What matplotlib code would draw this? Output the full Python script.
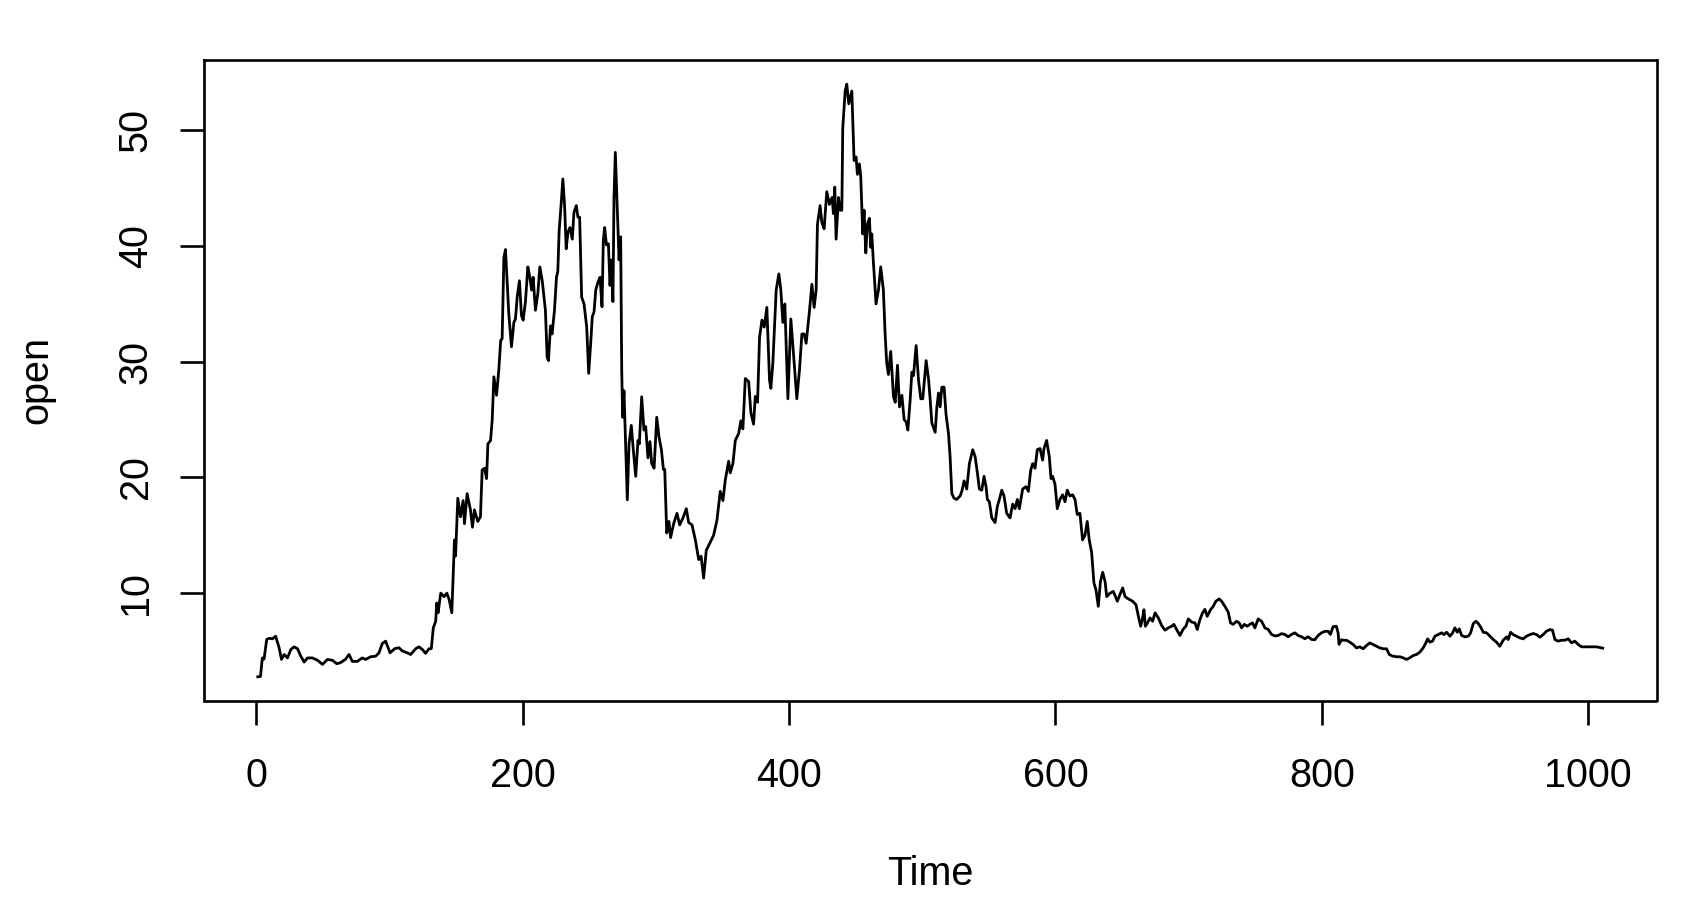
import matplotlib
matplotlib.use("Agg")
import matplotlib.pyplot as plt
import numpy as np

plt.rcParams['font.family'] = ['Liberation Sans', 'DejaVu Sans']

# ---- data (time index, opening value) ----
time = [
    1, 3, 4.4, 5.7, 7.7, 9.5, 12, 14.4, 17, 18.8, 20.8, 23.3, 25.8, 28.3, 30.8, 33.3, 35.8, 38.3, 42, 45.8,
    49.6, 53.3, 57, 60.3, 63.3, 67, 69.5, 72, 75.7, 79.4, 82, 85.7, 89.5, 92, 94.5, 97, 100.3, 103.8, 107, 109.6,
    113.3, 115.8, 119.6, 122, 124.6, 127, 129.6, 131.3, 132.8, 134.6, 135.4, 136.4, 138.4, 140.9, 143, 144.7,
    146.7, 148.7, 149.5, 151.2, 153.2, 155.2, 156.2, 158.2, 160.7, 162.2, 163.7, 166.2, 168.2, 169.5, 171.3,
    172.8, 173.8, 175.8, 177, 178.3, 180.3, 182, 183.4, 184.5, 185.8, 187, 188.2, 189.5, 191.5, 193.3, 194.5,
    195.8, 197.5, 199, 200.3, 202, 203.8, 205.3, 206.6, 207.8, 209.5, 211.3, 212.8, 214.6, 217, 218.3, 219.3,
    220.8, 222, 223.8, 225.3, 226.3, 227.3, 228.8, 230.1, 231.4, 232.6, 233.9, 235.4, 237.2, 238.4, 240.2,
    241.4, 242.7, 244.2, 246, 248, 249.5, 251, 252.2, 253.5, 254.8, 256.5, 258, 259.5, 260.5, 261.5, 262.8,
    264.3, 265.5, 266.5, 267.7, 268.5, 269.5, 271, 272.3, 273.5, 274.3, 275, 276, 278.5, 279.8, 281.5, 283,
    284.8, 286.5, 287.5, 289.3, 291, 292.3, 294, 295.5, 296.8, 298.6, 300.6, 302.3, 304.1, 305.6, 306.6,
    308.1, 309.8,
    311, 313.3, 315.8, 317.8, 320.3, 322.8, 324.6, 327.1, 329.6, 332.1, 333.9, 335.8, 337.8, 340.3, 343.3,
    345.8, 348.3, 350.3, 352.1, 354.6, 355.8, 357.8, 359.6, 362.1, 363.8, 365.3, 367.1, 369.6, 371.3, 373.3,
    374.6, 376.3, 377.8, 379.6, 381.3, 383.3, 385.3, 386.3, 387.8, 390.3, 392.3, 393.8, 395.3, 396.8, 399.1,
    401.3, 403.3, 405.8, 407.8, 409.6, 411.3, 412.8, 415.3, 417.1, 418.8, 420.3, 421.3, 423.3, 424.6, 426.3,
    428.3, 430.3, 432.3, 433.3, 434.3, 435.3, 437.1, 438.3, 439.6, 440.3, 442.1, 443.3, 444.8, 447.1, 448.8,
    450.3, 451.3, 452.8, 453.8, 455.3, 456.3, 457.6, 458.8, 460.3, 461.3, 462.1, 463.3, 465.3, 467.1, 468.8,
    470.8, 472.1, 473.3, 474.6,
    476.3, 478.4, 479.7, 481.4, 482.9, 484.7, 486.4, 487.9, 489.2, 490.9, 492.2, 493.4, 495.4, 497.2, 498.9,
    500.4, 502.9, 504.7, 505.9, 507.2, 509.7, 510.9, 512.2, 513.4, 514.7, 516.4, 517.9, 519.7, 520.9, 522.2,
    523.9, 525.9, 528.4, 529.7, 531.4, 533.4, 535.4, 537.9, 539.7, 541.4, 542.9, 544.7, 546.4, 547.9, 548.9,
    550.4, 552.2, 554.7, 556.4, 557.9, 559.7, 561.4, 563.4, 565.9, 567.9, 569.7, 571.4, 572.9, 575.4, 577.9,
    579.7, 581.4, 582.9, 584.7, 586.4, 588.4, 590.4, 591.4, 593.4, 595.4, 596.7, 597.9, 599.7, 601.4, 603.4,
    605.4, 607.2, 608.9, 610.9, 612.9, 614.7, 616.4, 618.4, 620.4, 622.2, 623.9, 625.4, 627.2, 628.9, 630.4,
    632.2,
    633.8, 635.5, 637.3, 638.5, 641, 643.5, 646.5, 648.5, 650.5, 652.3, 654.8, 658, 660.5, 662.3, 664, 665.5,
    666.5, 667.5, 669, 671, 673, 674.8, 677.3, 679.8, 682.3, 684.8, 687.3, 689, 691, 693.5, 696, 698, 699.8,
    702.3, 704.8, 706.5, 708.5, 710.5, 712.3, 714, 716.5, 718.5, 720.5, 723, 724.8, 727.3, 729.8, 731.5,
    733.5, 736, 738, 739.8, 741.8, 744, 746, 748, 749.8, 752.3, 754.8, 757.3, 759.8, 762.3, 764.8, 767.3,
    769.8, 772.3, 774.8, 777.3, 779.8, 782.3, 784.8, 787.3, 789.8, 792.3, 794.8, 797.3, 799.8, 802.3, 804.8,
    806.5, 808.5, 811, 812.3, 813,
    814.8, 816.1, 818.6, 821.1, 823.6, 826.1, 828.6, 831.1, 833.6, 836.1, 838.6, 841.1, 843.6, 846.2, 848.7,
    850.7, 853.2, 856.2, 858.7, 861.2, 863.7, 866.2, 868.7, 871.2, 873.7, 876.2, 878.2, 879.5, 881.2, 883.2,
    885, 887.5, 890, 891.8, 893.8, 896.3, 898.3, 900, 901.8, 903.3, 905.1, 907.6, 910.1, 911.8, 913.8, 915.8,
    917.6, 919.3, 921.3, 923.8, 926.3, 928.8, 931.3, 933.7, 936.3, 938.8, 940, 941.8, 943.8, 946.3, 948.8,
    951.3, 953.8, 956.3, 958.8, 961.3, 963.8, 966.3, 968.8, 971.3, 973.3, 975.1, 977.6, 980.1, 982.6, 985.1,
    987.6, 990.1, 992.6, 995.1, 998.8, 1002.6, 1006.3, 1011,
]

open_vals = [
    2.77, 2.8, 4.4, 4.3, 6.0, 6.1, 6.05, 6.28, 5.28, 4.27, 4.7, 4.4, 5.13, 5.36, 5.2, 4.55, 4.04, 4.4, 4.4, 4.2,
    3.84, 4.27, 4.2, 3.9, 4.0, 4.3, 4.7, 4.1, 4.1, 4.4, 4.27, 4.5, 4.55, 4.84, 5.65, 5.85, 4.84, 5.2, 5.28, 5.0,
    4.84, 4.7, 5.2, 5.36, 5.13, 4.8, 5.2, 5.2, 7.0, 7.57, 9.15, 8.3, 10.0, 9.7, 10.0, 9.45,
    8.3, 14.6, 13.2, 18.2, 16.6, 18.0, 16.0, 18.6, 17.2, 15.7, 17.2, 16.2, 16.6, 20.65, 20.8,
    19.9, 22.9, 23.2, 24.9, 28.7, 27.1, 29.3, 31.85, 32.0, 39.0, 39.7, 37.0, 34.15, 31.3, 33.4, 33.7,
    35.6, 37.0, 34.0, 33.6, 35.2, 38.2, 37.3, 36.2, 37.3, 34.45, 35.9, 38.2, 37.0, 34.45, 30.4, 30.1,
    33.1, 32.4, 34.45, 37.3, 37.8, 41.3, 43.6, 45.8, 43.5, 39.76, 41.2, 41.6, 40.6, 42.9, 43.5,
    42.5, 42.5, 35.6, 35.0, 33.0, 29.0, 31.6, 33.9, 34.3, 36.2, 36.9, 37.3, 34.75, 40.5, 41.6, 40.1,
    40.2, 36.6, 38.8, 35.2, 44.2, 48.1, 43.0, 38.8, 40.8, 29.3, 25.2, 27.5, 18.06, 22.9, 24.5, 22.4,
    20.1, 23.2, 22.9, 26.97, 24.1, 24.4, 21.7, 23.1, 21.2, 20.8, 25.2, 23.5, 22.4, 20.7, 20.7,
    15.2, 16.2,
    14.8, 16.0, 16.9, 15.9, 16.5, 17.3, 16.1, 15.9, 14.6, 12.9, 13.2, 11.3, 13.7, 14.3, 15.0,
    16.3, 18.8, 18.0, 19.8, 21.4, 20.4, 21.2, 23.2, 23.8, 24.9, 24.2, 28.55, 28.3, 25.6, 24.6,
    27.0, 26.5, 32.1, 33.6, 33.0, 34.7, 28.4, 27.7, 29.9, 36.2, 37.6, 36.2, 33.4, 35.0, 26.8,
    33.7, 30.7, 26.8, 29.3, 32.4, 32.4, 31.6, 34.4, 36.7, 34.7, 36.2, 41.9, 43.5, 42.05, 41.5,
    44.7, 43.6, 44.2, 42.8, 45.1, 40.6, 44.2, 43.1, 43.1, 50.2, 53.4, 54.0, 52.3, 53.4, 47.4,
    47.7, 46.2, 47.1, 46.0, 41.05, 43.1, 39.4, 41.9, 42.4, 39.9, 41.05, 38.6, 35.0, 36.2, 38.2,
    36.2, 32.4, 29.9, 28.9,
    30.9, 26.97, 26.5, 29.7, 26.1, 27.1, 25.0, 24.8, 24.1, 26.7, 29.1, 28.8, 31.4, 28.4, 26.8,
    26.8, 30.1, 28.5, 26.8, 24.7, 23.9, 26.0, 27.3, 26.1, 27.8, 27.8, 25.4, 23.8, 21.8, 18.6,
    18.2, 18.1, 18.4, 18.8, 19.7, 19.0, 21.2, 22.4, 21.8, 20.4, 19.0, 18.9, 20.1, 19.2, 18.1,
    17.9, 16.5, 16.1, 17.5, 18.1, 18.9, 18.4, 16.9, 16.5, 17.7, 17.3, 18.1, 17.3, 19.0, 19.2,
    18.8, 20.6, 21.2, 20.8, 22.4, 22.5, 21.5, 22.5, 23.2, 21.8, 19.9, 20.1, 19.4, 17.3, 18.1,
    18.5, 17.9, 18.9, 18.4, 18.5, 18.1, 16.8, 16.9, 14.6, 15.0, 16.2, 14.6, 13.5, 10.9, 10.3,
    8.86,
    11.0, 11.8, 11.0, 9.7, 10.0, 10.15, 9.3, 9.9, 10.45, 9.7, 9.5, 9.3, 9.0, 8.0, 7.14, 7.86,
    8.57, 7.14, 7.4, 7.86, 7.57, 8.3, 7.86, 7.2, 6.8, 7.0, 7.14, 7.3, 6.86, 6.34, 6.9, 7.14, 7.77,
    7.5, 7.43, 6.86, 7.7, 8.3, 8.6, 8.0, 8.57, 8.86, 9.3, 9.5, 9.3, 8.86, 8.35, 7.43,
    7.3, 7.57, 7.43, 7.0, 7.3, 7.14, 7.3, 7.43, 7.0, 7.77, 7.57, 7.0, 6.86, 6.43, 6.3, 6.34,
    6.5, 6.43, 6.23, 6.43, 6.57, 6.34, 6.23, 6.06, 6.23, 6.0, 5.97, 6.34, 6.57, 6.7, 6.7,
    6.43, 7.1, 7.14, 6.57, 5.57,
    5.97, 5.93, 5.93, 5.76, 5.56, 5.27, 5.36, 5.19, 5.47, 5.7, 5.56, 5.41, 5.27, 5.19, 5.19,
    4.7, 4.56, 4.5, 4.5, 4.41, 4.27, 4.41, 4.61, 4.7, 4.9, 5.27, 5.7, 6.05, 5.76, 5.85,
    6.28, 6.42, 6.57, 6.42, 6.62, 6.28, 6.57, 7.0, 6.62, 6.91, 6.34, 6.22, 6.28, 6.57, 7.37, 7.57,
    7.37, 7.08, 6.62, 6.57, 6.28, 5.99, 5.76, 5.41, 5.93, 6.22, 5.99, 6.62, 6.42, 6.28, 6.13,
    6.05, 6.28, 6.42, 6.51, 6.42, 6.19, 6.42, 6.71, 6.85, 6.8, 5.99, 5.85, 5.93, 5.93, 6.05,
    5.7, 5.85, 5.56, 5.36, 5.36, 5.36, 5.36, 5.25,
]

x_ticks = [0, 200, 400, 600, 800, 1000]
y_ticks = [10, 20, 30, 40, 50]
x_label = "Time"
y_label = "open"

# ---- figure ----
W, H = 1692, 924
fig = plt.figure(figsize=(W / 100, H / 100), dpi=100)
L, R, T, B = 204, 1656.5, 60.4, 700.5
ax = fig.add_axes([L / W, 1 - B / H, (R - L) / W, (B - T) / H])

lw = 1.9
ax.plot(time, open_vals, color="black", lw=2.0, solid_joinstyle="round")

# R-style 4% axis padding
t = np.asarray(time)
v = np.asarray(open_vals)
tp = 0.04 * (t.max() - t.min())
vp = 0.04 * (v.max() - v.min())
ax.set_xlim(t.min() - tp, t.max() + tp)
ax.set_ylim(v.min() - vp, v.max() + vp)

ax.set_xticks(x_ticks)
ax.set_yticks(y_ticks)
ax.set_xticklabels([str(x) for x in x_ticks])
ax.set_yticklabels([str(y) for y in y_ticks], rotation=90, va="center")

fs = 28.5
ax.tick_params(direction="out", length=17.5, width=lw, color="black", labelsize=fs)
ax.tick_params(axis="x", pad=23.5)
ax.tick_params(axis="y", pad=18)
for s in ax.spines.values():
    s.set_linewidth(lw)
    s.set_color("black")

fig.text(930 / W, 1 - 885 / H, x_label, ha="center", va="baseline", fontsize=fs)
fig.text(47 / W, 1 - 380 / H, y_label, ha="center", va="baseline", fontsize=fs,
         rotation=90, rotation_mode="anchor")

fig.savefig("out.png", dpi=100, facecolor="white")
